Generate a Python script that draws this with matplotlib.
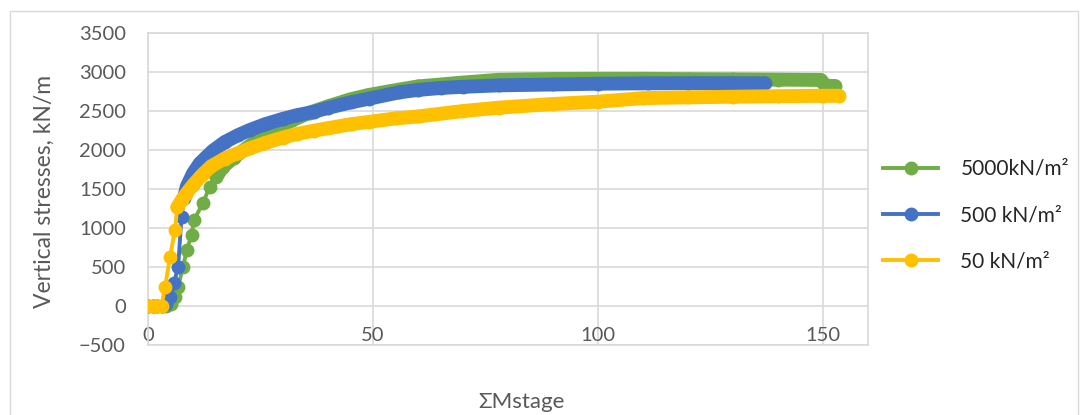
import numpy as np
import matplotlib
matplotlib.use('Agg')
import matplotlib.pyplot as plt
from matplotlib.lines import Line2D
from matplotlib.patches import Rectangle

plt.rcParams['font.family'] = ['Lato', 'DejaVu Sans']

# data (x = cumulative Mstage, y = vertical stress kN/m)
stage_5000 = [0, 1, 2, 3, 4, 5, 5.97, 6.7, 7.8, 8.6, 9.7, 10.2, 12.2, 13.7, 15.2, 16.7,
              19, 22, 25, 28, 32, 36, 40, 45, 49, 55.8, 60, 70, 78, 90, 100, 111, 120,
              130, 140, 149.5, 150.5, 152.7]
stress_5000 = [0, 0, 0, 0, 0, 30, 120, 248, 504, 718, 910, 1103, 1316, 1530, 1658, 1786,
               1900, 2030, 2150, 2260, 2380, 2480, 2560, 2650, 2705, 2775, 2815, 2865, 2900,
               2910, 2912, 2912, 2908, 2905, 2902, 2898, 2825, 2820]

stage_500 = [0, 1, 2, 3, 4, 4.9, 5.8, 6.7, 7.45, 8.0, 8.6, 10, 11.5, 14.4, 17, 20, 22.6,
             26, 30, 33, 36.9, 40, 45, 49.1, 55.8, 60, 65, 70, 78, 90, 100, 111, 120, 130, 137]
stress_500 = [0, 0, 0, 0, 20, 120, 300, 504, 1145, 1380, 1530, 1700, 1829, 1990, 2100, 2190,
              2256, 2330, 2400, 2445, 2491, 2540, 2610, 2658, 2739, 2770, 2795, 2810, 2829,
              2840, 2850, 2855, 2857, 2857, 2855]

stage_50 = [0, 1, 2, 3, 3.8, 4.9, 6.0, 6.5, 7.5, 8.5, 10, 12, 14, 17, 20, 22.6, 26, 30, 33,
            36.9, 40, 45, 49, 55, 60, 70, 78, 90, 100, 110, 120, 130, 140, 150, 153.6]
stress_50 = [0, 0, 0, 0, 248, 632, 974, 1265, 1360, 1440, 1550, 1680, 1790, 1890, 1960, 2021,
             2090, 2160, 2205, 2248, 2280, 2330, 2360, 2405, 2430, 2500, 2543, 2590, 2620,
             2665, 2675, 2683, 2690, 2695, 2696]

labels = ['5000kN/m²', '500 kN/m²', '50 kN/m²']
colors = ['#70AD47', '#4472C4', '#FFC000']
band_from = [15, 8, 6.5]   # where the markers merge into one thick band

series = [(stage_5000, stress_5000), (stage_500, stress_500), (stage_50, stress_50)]

fig = plt.figure(figsize=(10.89, 4.15), dpi=100)
ax = fig.add_axes([148 / 1089, 1 - 345 / 415, 720 / 1089, 312 / 415])

for i, (x, y) in enumerate(series):
    x = np.array(x)
    y = np.array(y)
    z = 3 + i
    m = x >= band_from[i]
    ax.plot(x[m], y[m], color=colors[i], lw=10, solid_capstyle='round',
            solid_joinstyle='round', zorder=z)
    ax.plot(x, y, color=colors[i], lw=2.8, marker='o', ms=10, mew=0,
            mfc=colors[i], zorder=z)

ax.set_xlim(0, 160)
ax.set_ylim(-500, 3500)
ax.set_xticks([0, 50, 100, 150])
ax.set_yticks(np.arange(-500, 3501, 500))
ax.grid(True, color='#D9D9D9', lw=1.2, zorder=0)
ax.set_axisbelow(True)
for s in ax.spines.values():
    s.set_color('#D9D9D9')
    s.set_linewidth(1.2)
ax.tick_params(axis='both', length=0, labelsize=14.5, labelcolor='#595959')
ax.tick_params(axis='y', pad=16)
ax.tick_params(axis='x', pad=-13)

fig.text(44 / 1089, 1 - 191 / 415, 'Vertical stresses, kN/m', rotation=90,
         ha='center', va='center', fontsize=16.5, color='#595959')
fig.text(521 / 1089, 1 - 402 / 415, 'ΣMstage', ha='center', va='center',
         fontsize=16, color='#595959')

handles = [Line2D([0], [0], color=c, lw=2.8, marker='o', ms=10, mew=0) for c in colors]
ax.legend(handles, labels, loc='center left', bbox_to_anchor=(873 / 1089, 1 - 215 / 415),
          bbox_transform=fig.transFigure, frameon=False, fontsize=15,
          handlelength=2.6, handletextpad=1.1, labelspacing=1.25, borderpad=0,
          labelcolor='#262626')

fig.patches.append(Rectangle((10 / 1089, -0.05), 1068 / 1089, 404 / 415 + 0.05,
                             transform=fig.transFigure, fill=False, ec='#D9D9D9', lw=1))

fig.savefig('out.png', dpi=100)
